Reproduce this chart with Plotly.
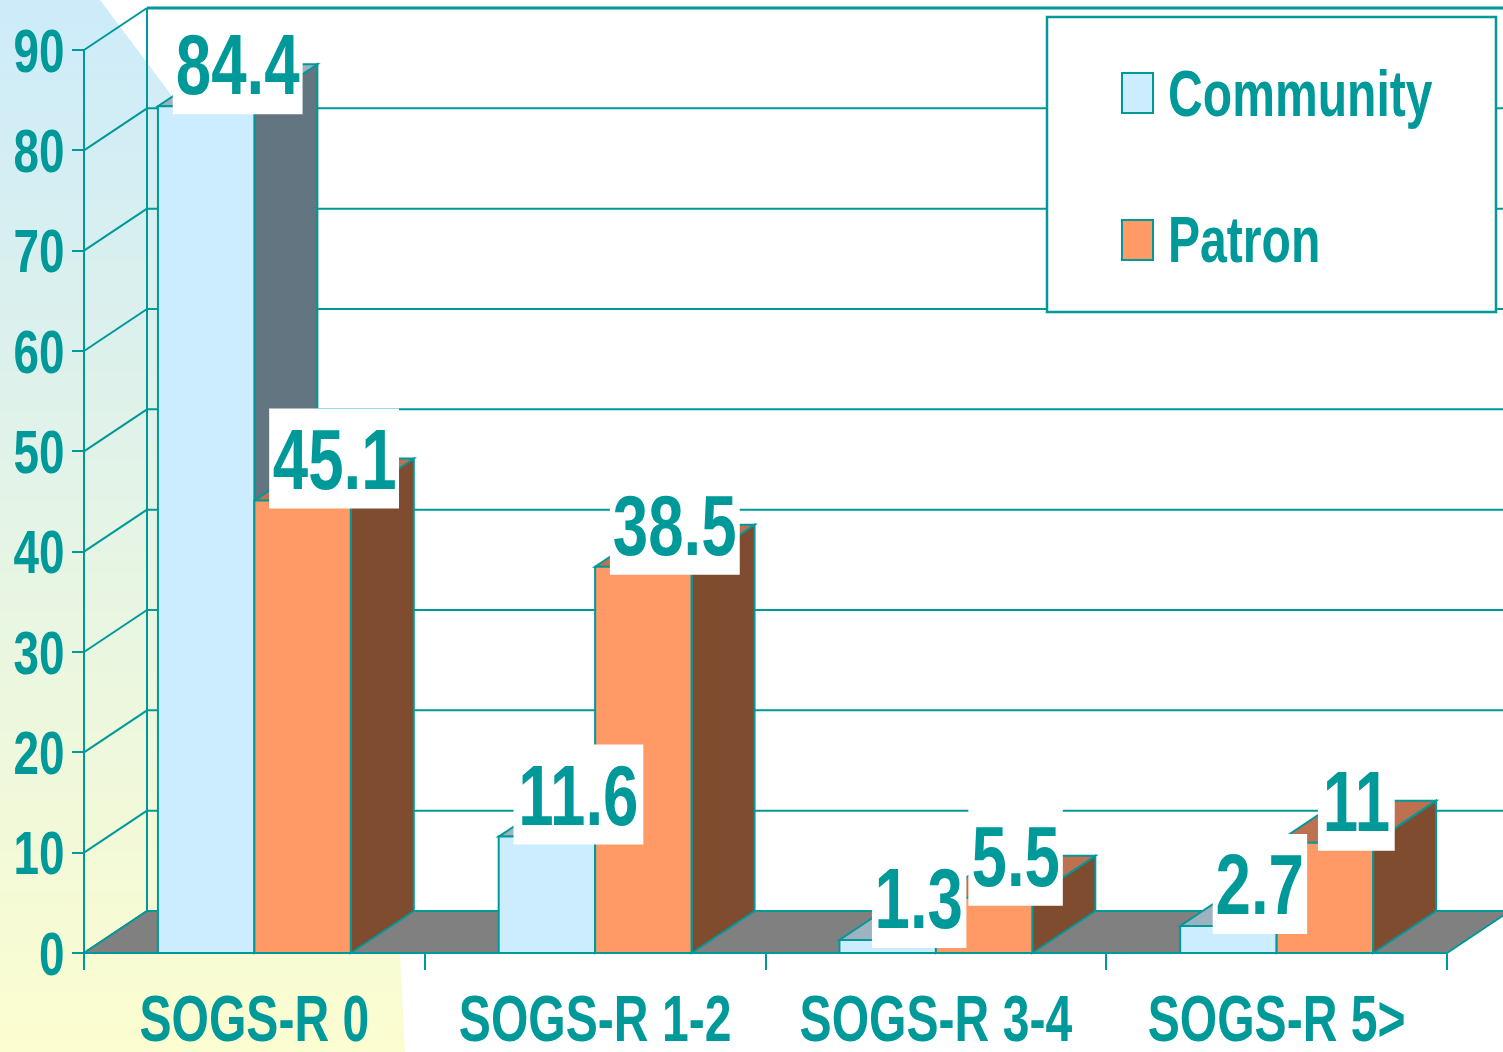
import json
import plotly.graph_objects as go

# ---------------- data ----------------
categories = ["SOGS-R 0", "SOGS-R 1-2", "SOGS-R 3-4", "SOGS-R 5>"]
series_names = ["Community", "Patron"]
community = [84.4, 11.6, 1.3, 2.7]
patron = [45.1, 38.5, 5.5, 11]
community_labels = ["84.4", "11.6", "1.3", "2.7"]
patron_labels = ["45.1", "38.5", "5.5", "11"]
y_ticks = [0, 10, 20, 30, 40, 50, 60, 70, 80, 90]

# ---------------- style ----------------
W, H = 1503, 1052
TEAL = "#009999"
FONT = "Liberation Sans, Arial, sans-serif"
SX = 0.74  # horizontal condensing of all texts (narrow-font look)
COMM_FRONT, COMM_SIDE, COMM_TOP = "#CCECFF", "#627580", "#9EB3BF"
PAT_FRONT, PAT_SIDE, PAT_TOP = "#FF9966", "#7F4C30", "#BE7150"
FLOOR = "#808080"

# approximate bold glyph advance widths (em) used to size label boxes
GLYPH_W = {".": 0.278}
def text_w(s, size):
    return sum(GLYPH_W.get(ch, 0.556) for ch in s) * size * SX

# pixel geometry of the front plane -> axis ranges
X0_PX, CAT_PX = 84.0, 340.75
Y0_PX, UNIT_PX = 953.0, 10.033
x_range = [-X0_PX / CAT_PX, (W - X0_PX) / CAT_PX]
y_range = [-(H - Y0_PX) / UNIT_PX, Y0_PX / UNIT_PX]
DX = 63.0 / CAT_PX      # depth offset in x units
DY = 42.0 / UNIT_PX     # depth offset in y units
BAR_W = 0.283
NCAT = len(categories)
YMAX = y_ticks[-1]

shapes = []

# ---- background gradient (paper coords) ----
EDGE = [(0, 100), (100, 175), (420, 290), (953, 400), (1052, 405)]
def xr(py):
    for (ya, xa), (yb, xb) in zip(EDGE[:-1], EDGE[1:]):
        if py <= yb:
            return xa + (py - ya) * (xb - xa) / (yb - ya)
    return EDGE[-1][1]

top_c = (205, 235, 250)
bot_c = (252, 253, 208)
n = 105
for k in range(n):
    y0 = H * k / n
    y1 = min(H * (k + 1) / n + 0.6, H)
    t = (k + 0.5) / n
    c = tuple(int(round(top_c[i] + (bot_c[i] - top_c[i]) * t)) for i in range(3))
    path = "M 0 {a} L {b} {a} L {c} {d} L 0 {d} Z".format(
        a=1 - y0 / H, b=xr(y0) / W, c=xr(y1) / W, d=1 - y1 / H)
    shapes.append(dict(type="path", xref="paper", yref="paper", path=path,
                       fillcolor="rgb(%d,%d,%d)" % c, line=dict(width=0), layer="below"))

def dline(x0, y0, x1, y1, w=2):
    shapes.append(dict(type="line", xref="x", yref="y", x0=x0, y0=y0, x1=x1, y1=y1,
                       line=dict(color=TEAL, width=w), layer="below"))

def dpoly(pts, fill, w=2):
    path = "M " + " L ".join("%f,%f" % p for p in pts) + " Z"
    shapes.append(dict(type="path", xref="x", yref="y", path=path, fillcolor=fill,
                       line=dict(color=TEAL, width=w), layer="below"))

# ---- walls ----
for v in y_ticks[1:]:
    dline(DX, v + DY, NCAT + DX, v + DY, 3 if v == YMAX else 2)
for v in y_ticks:
    dline(0, v, DX, v + DY)
dline(DX, DY, DX, YMAX + DY)
dline(0, 0, 0, YMAX)

# ---- floor ----
dpoly([(0, 0), (NCAT, 0), (NCAT + DX, DY), (DX, DY)], FLOOR)

# ---- side and top faces of the bars ----
def bar_faces(a, b, h, side, top):
    dpoly([(b, 0), (b + DX, DY), (b + DX, h + DY), (b, h)], side)
    dpoly([(a, h), (b, h), (b + DX, h + DY), (a + DX, h + DY)], top)

for i in range(NCAT):
    c = i + 0.5
    bar_faces(c - BAR_W, c, community[i], COMM_SIDE, COMM_TOP)
    bar_faces(c, c + BAR_W, patron[i], PAT_SIDE, PAT_TOP)

annotations = []

# ---- data labels (white boxes + text) ----
LBL = 86
LBL_H = 100
for i in range(NCAT):
    c = i + 0.5
    for h, lab, xc in ((community[i], community_labels[i], c - BAR_W / 2),
                       (patron[i], patron_labels[i], c + BAR_W / 2)):
        cx, cy = xc + DX / 2, h + DY
        bw = (text_w(lab, LBL) + 6) / CAT_PX
        bh = LBL_H / UNIT_PX
        shapes.append(dict(type="rect", xref="x", yref="y", x0=cx - bw / 2, x1=cx + bw / 2,
                           y0=cy - bh / 2, y1=cy + bh / 2, fillcolor="white",
                           line=dict(width=0), layer="above"))
        annotations.append(dict(xref="x", yref="y", x=cx, y=cy, text=lab,
                                showarrow=False, xanchor="center", yanchor="middle",
                                borderpad=0,
                                font=dict(family=FONT, size=LBL, color=TEAL, weight="bold")))

# ---- legend (paper coords) ----
def px(x):
    return x / W

def py(y):
    return 1 - y / H

shapes.append(dict(type="rect", xref="paper", yref="paper", x0=px(1047), x1=px(1496),
                   y0=py(312), y1=py(17), fillcolor="white",
                   line=dict(color=TEAL, width=2.5), layer="above"))
legend_colors = [COMM_FRONT, PAT_FRONT]
legend_y = [93, 240]
for name, col, ly in zip(series_names, legend_colors, legend_y):
    shapes.append(dict(type="rect", xref="paper", yref="paper", x0=px(1122), x1=px(1153),
                       y0=py(ly + 20), y1=py(ly - 20), fillcolor=col,
                       line=dict(color=TEAL, width=2), layer="above"))
    annotations.append(dict(xref="paper", yref="paper", x=px(1167), y=py(ly), text=name,
                            showarrow=False, xanchor="left", yanchor="middle", borderpad=0,
                            font=dict(family=FONT, size=65, color=TEAL, weight="bold")))

# ---------------- figure ----------------
fig = go.Figure()
centers = [i + 0.5 for i in range(NCAT)]
fig.add_trace(go.Bar(x=centers, y=community, width=BAR_W, offset=-BAR_W, name=series_names[0],
                     marker=dict(color=COMM_FRONT, line=dict(color=TEAL, width=2)),
                     showlegend=False, hoverinfo="skip"))
fig.add_trace(go.Bar(x=centers, y=patron, width=BAR_W, offset=0, name=series_names[1],
                     marker=dict(color=PAT_FRONT, line=dict(color=TEAL, width=2)),
                     showlegend=False, hoverinfo="skip"))

fig.update_layout(
    width=W, height=H,
    margin=dict(l=0, r=0, t=0, b=0, pad=0, autoexpand=False),
    paper_bgcolor="white", plot_bgcolor="rgba(0,0,0,0)",
    barmode="overlay", showlegend=False,
    shapes=shapes, annotations=annotations,
    xaxis=dict(range=x_range, anchor="free", position=1 - Y0_PX / H, automargin=False,
               tickmode="array", tickvals=centers, ticktext=categories, ticks="",
               tickangle=0, showgrid=False, zeroline=False, showline=False,
               tickfont=dict(family=FONT, size=65, color=TEAL, weight="bold"),
               ticklabelstandoff=22,
               minor=dict(tickmode="linear", tick0=0, dtick=1, ticks="outside",
                          ticklen=16, tickwidth=2, tickcolor=TEAL, showgrid=False)),
    yaxis=dict(range=y_range, anchor="free", position=X0_PX / W, automargin=False,
               tickmode="array", tickvals=y_ticks, ticks="outside", ticklen=12,
               tickwidth=2, tickcolor=TEAL, ticklabelstandoff=-5,
               showgrid=False, zeroline=False, showline=False,
               tickfont=dict(family=FONT, size=62, color=TEAL, weight="bold")),
)

# page without body margin; condense every text horizontally around its anchor
post = """
document.body.style.margin = '0';
document.body.style.overflow = 'hidden';
var gd = document.getElementById('{plot_id}');
var SX = %s;
var LEFT = %s;
gd.querySelectorAll('svg text').forEach(function(t){
  var x = parseFloat(t.getAttribute('x'));
  if (isNaN(x)) { x = 0; }
  if (LEFT.indexOf(t.textContent) >= 0) { x = t.getBBox().x; }
  var tr = t.getAttribute('transform') || '';
  t.setAttribute('transform', tr + ' translate(' + x + ',0) scale(' + SX + ',1) translate(' + (-x) + ',0)');
});
""" % (SX, json.dumps(series_names))

fig.write_html("out.html", post_script=post, config={"displayModeBar": False})
